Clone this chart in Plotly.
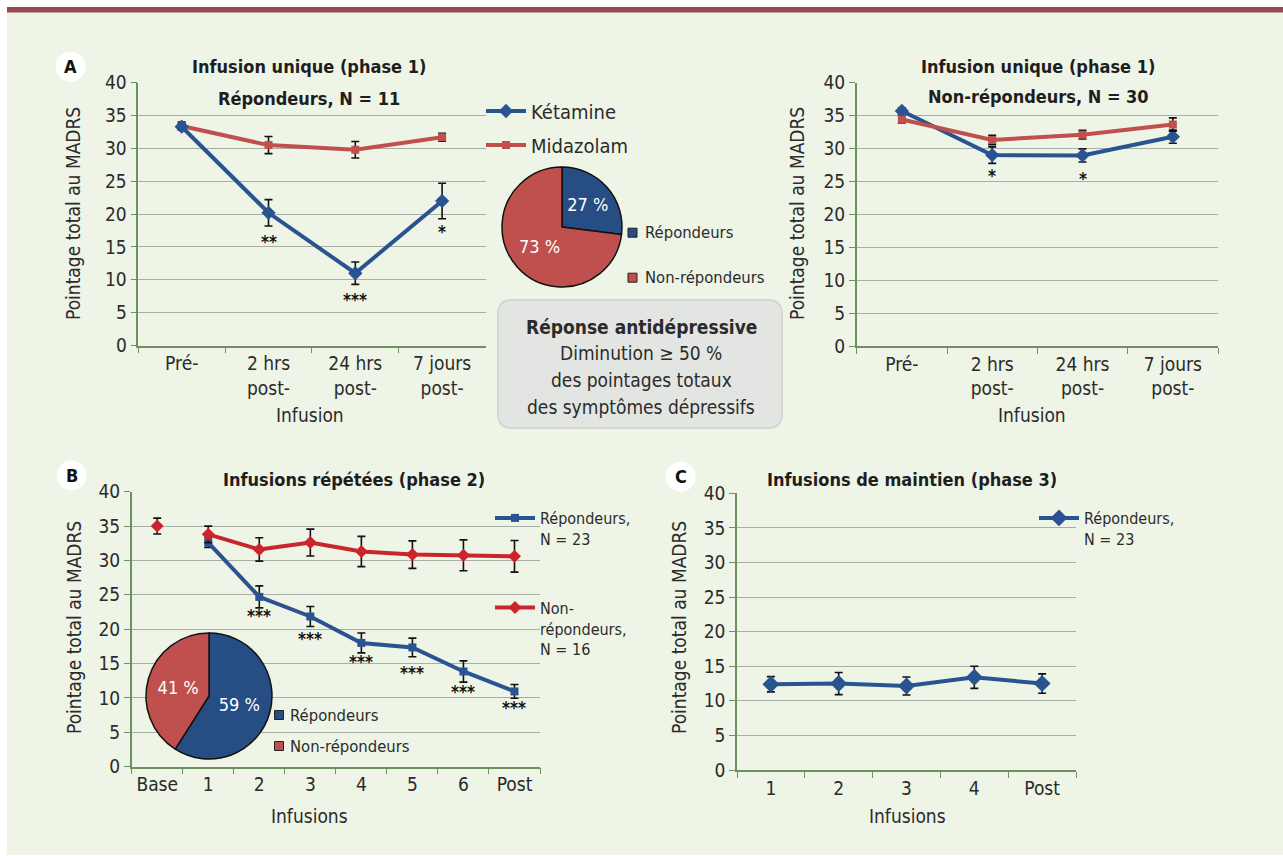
import plotly.graph_objects as go

W, H = 1283, 856
def fx(p): return p / W
def fy(p): return 1 - p / H

FONT = "DejaVu Sans Condensed, Liberation Sans Narrow, Roboto Condensed, Roboto, sans-serif"
BLUE = "#2a5391"
RED_A = "#c0504d"
RED_B = "#c9252c"
PIE_BLUE = "#264d84"
PIE_RED = "#c0504d"
GRID = "#a9aea6"
AXIS = "#6f8f61"
BG = "#eef4e6"
TXT = "#2b2b2b"

# ---------------- data ----------------
phase1_cats = ["Pré-", "2 hrs<br>post-", "24 hrs<br>post-", "7 jours<br>post-"]
resp_ket = [33.3, 20.2, 11.0, 22.0]
resp_ket_err = [0.5, 2.0, 1.7, 2.7]
resp_mid = [33.4, 30.5, 29.8, 31.7]
resp_mid_err = [0.6, 1.3, 1.25, 0.6]
nonresp_ket = [35.7, 29.0, 28.95, 31.8]
nonresp_ket_err = [0.5, 1.25, 1.0, 1.0]
nonresp_mid = [34.4, 31.3, 32.1, 33.65]
nonresp_mid_err = [0.5, 0.7, 0.65, 1.0]
resp_stars = ["", "**", "***", "*"]
resp_star_y = [None, 15.7, 7.0, 17.3]
nonresp_stars = ["", "*", "*", ""]
nonresp_star_y = [None, 25.9, 25.4, None]

phase2_cats = ["Base", "1", "2", "3", "4", "5", "6", "Post"]
p2_resp = [None, 32.6, 24.7, 21.85, 18.0, 17.35, 13.85, 10.95]
p2_resp_err = [0, 0.7, 1.6, 1.45, 1.45, 1.35, 1.55, 1.0]
p2_non = [35.0, 33.8, 31.6, 32.6, 31.3, 30.85, 30.75, 30.6]
p2_non_err = [1.15, 1.2, 1.7, 1.95, 2.2, 2.0, 2.25, 2.3]
p2_stars = ["", "", "***", "***", "***", "***", "***", "***"]
p2_star_y = [None, None, 21.9, 18.6, 15.3, 13.6, 10.9, 8.5]

phase3_cats = ["1", "2", "3", "4", "Post"]
p3_resp = [12.4, 12.5, 12.15, 13.4, 12.5]
p3_resp_err = [1.1, 1.6, 1.3, 1.6, 1.4]

pie_labels = ["Répondeurs", "Non-répondeurs"]
pieA_values = [27, 73]
pieB_values = [59, 41]

# ---------------- figure ----------------
fig = go.Figure()

def err(arr):
    return dict(type="data", array=arr, visible=True, color="#111111", thickness=1.6, width=4)

# Panel A left
fig.add_trace(go.Scatter(x=phase1_cats, y=resp_mid, error_y=err(resp_mid_err), mode="lines+markers",
                         line=dict(color=RED_A, width=4), marker=dict(symbol="square", size=8, color=RED_A),
                         name="Midazolam", legend="legend", legendgroup="mid", legendrank=2,
                         xaxis="x", yaxis="y"))
fig.add_trace(go.Scatter(x=phase1_cats, y=resp_ket, error_y=err(resp_ket_err), mode="lines+markers",
                         line=dict(color=BLUE, width=4), marker=dict(symbol="diamond", size=11, color=BLUE),
                         name="Kétamine", legend="legend", legendgroup="ket", legendrank=1,
                         xaxis="x", yaxis="y"))
# Panel A right
fig.add_trace(go.Scatter(x=phase1_cats, y=nonresp_ket, error_y=err(nonresp_ket_err), mode="lines+markers",
                         line=dict(color=BLUE, width=4), marker=dict(symbol="diamond", size=11, color=BLUE),
                         showlegend=False, xaxis="x2", yaxis="y2"))
fig.add_trace(go.Scatter(x=phase1_cats, y=nonresp_mid, error_y=err(nonresp_mid_err), mode="lines+markers",
                         line=dict(color=RED_A, width=4), marker=dict(symbol="square", size=8, color=RED_A),
                         showlegend=False, xaxis="x2", yaxis="y2"))
# Panel B
fig.add_trace(go.Scatter(x=phase2_cats[:1], y=p2_non[:1], error_y=err(p2_non_err[:1]), mode="markers",
                         marker=dict(symbol="diamond", size=10, color=RED_B),
                         showlegend=False, xaxis="x3", yaxis="y3"))
fig.add_trace(go.Scatter(x=phase2_cats[1:], y=p2_resp[1:], error_y=err(p2_resp_err[1:]), mode="lines+markers",
                         line=dict(color=BLUE, width=4), marker=dict(symbol="square", size=8, color=BLUE),
                         name="Répondeurs,<br>N = 23", legend="legend3", legendgroup="b1", legendrank=1,
                         xaxis="x3", yaxis="y3"))
fig.add_trace(go.Scatter(x=phase2_cats[1:], y=p2_non[1:], error_y=err(p2_non_err[1:]), mode="lines+markers",
                         line=dict(color=RED_B, width=4), marker=dict(symbol="diamond", size=10, color=RED_B),
                         name="Non-<br>répondeurs,<br>N = 16", legend="legend3", legendgroup="b2", legendrank=2,
                         xaxis="x3", yaxis="y3"))
# Panel C
fig.add_trace(go.Scatter(x=phase3_cats, y=p3_resp, error_y=err(p3_resp_err), mode="lines+markers",
                         line=dict(color=BLUE, width=4), marker=dict(symbol="diamond", size=13, color=BLUE),
                         name="Répondeurs,<br>N = 23", legend="legend4", xaxis="x4", yaxis="y4"))

# Pies
def pie(values, cx, cy, r):
    return go.Pie(values=values, labels=pie_labels, sort=False, direction="clockwise", rotation=0,
                  marker=dict(colors=[PIE_BLUE, PIE_RED], line=dict(color="#111111", width=1.5)),
                  texttemplate="%{value} %", textposition="inside", insidetextorientation="horizontal",
                  textfont=dict(family=FONT, size=18, color="white"), hoverinfo="skip",
                  showlegend=False,
                  domain=dict(x=[fx(cx - r), fx(cx + r)], y=[fy(cy + r), fy(cy - r)]))
fig.add_trace(pie(pieA_values, 562, 227, 60))
fig.add_trace(pie(pieB_values, 209, 696, 63))

# ---------------- axes ----------------
def xax(x0, x1, ncat):
    return dict(domain=[fx(x0), fx(x1)], type="category", range=[-0.5, ncat - 0.5], tickson="boundaries",
                ticks="outside", ticklen=6, tickcolor=AXIS, tickwidth=1.3, showline=True, linecolor=AXIS,
                linewidth=1.5, showgrid=False, zeroline=False, fixedrange=True, automargin=False,
                tickfont=dict(family=FONT, size=19, color=TXT))
def yax(y0, y1, anchor):
    return dict(domain=[fy(y1), fy(y0)], range=[0, 40], dtick=5, ticks="outside", ticklen=6, tickcolor=AXIS,
                tickwidth=1.3, showline=True, linecolor=AXIS, linewidth=1.5, showgrid=True, gridcolor=GRID,
                gridwidth=1.3, zeroline=False, anchor=anchor, fixedrange=True, automargin=False,
                tickfont=dict(family=FONT, size=19, color=TXT))

layout = dict(
    width=W, height=H, margin=dict(l=0, r=0, t=0, b=0, pad=0, autoexpand=False),
    paper_bgcolor="white", plot_bgcolor="rgba(0,0,0,0)",
    font=dict(family=FONT, color=TXT),
    xaxis=dict(xax(138.3, 485.5, 4), anchor="y"), yaxis=yax(82.7, 345.5, "x"),
    xaxis2=dict(xax(856.7, 1218, 4), anchor="y2"), yaxis2=yax(82.7, 346, "x2"),
    xaxis3=dict(xax(131.7, 540, 8), anchor="y3"), yaxis3=yax(491.7, 766.7, "x3"),
    xaxis4=dict(xax(737, 1076, 5), anchor="y4"), yaxis4=yax(493.3, 770, "x4"),
    legend=dict(x=fx(481), y=fy(91.5), xanchor="left", yanchor="top", bgcolor="rgba(0,0,0,0)",
                font=dict(family=FONT, size=20, color=TXT), traceorder="grouped", tracegroupgap=5,
                itemwidth=40),
    legend3=dict(x=fx(490), y=fy(501), xanchor="left", yanchor="top", bgcolor="rgba(0,0,0,0)",
                 font=dict(family=FONT, size=16, color=TXT), traceorder="grouped", tracegroupgap=45,
                 valign="top", itemwidth=40),
    legend4=dict(x=fx(1034), y=fy(501), xanchor="left", yanchor="top", bgcolor="rgba(0,0,0,0)",
                 font=dict(family=FONT, size=16, color=TXT), valign="top", itemwidth=40),
)
fig.update_layout(**layout)

shapes = []
ann = []
# background panel and top bar
shapes.append(dict(type="rect", xref="paper", yref="paper", x0=fx(7), x1=fx(1283), y0=fy(855), y1=fy(7),
                   fillcolor=BG, line=dict(width=0), layer="below"))
shapes.append(dict(type="rect", xref="paper", yref="paper", x0=fx(7), x1=fx(1283), y0=fy(12.5), y1=fy(7),
                   fillcolor="#9a4755", line=dict(width=0), layer="below"))
# circles for panel labels
for lab, cx, cy in [("A", 70.7, 66.7), ("B", 71.7, 475.5), ("C", 680.7, 476.7)]:
    shapes.append(dict(type="circle", xref="paper", yref="paper", x0=fx(cx - 15), x1=fx(cx + 15),
                       y0=fy(cy + 15), y1=fy(cy - 15), fillcolor="white", line=dict(width=0), layer="below"))
    ann.append(dict(text="<b>%s</b>" % lab, x=fx(cx), y=fy(cy), xref="paper", yref="paper", showarrow=False,
                    xanchor="center", yanchor="middle", font=dict(family=FONT, size=18, color="#111111")))

# rounded box
bx0, bx1, by0, by1, rr = 498, 782, 300, 428, 14
path = ("M {a},{b} L {c},{b} Q {d},{b} {d},{e} L {d},{f} Q {d},{g} {c},{g} L {a},{g} Q {h},{g} {h},{f} "
        "L {h},{e} Q {h},{b} {a},{b} Z").format(
    a=fx(bx0 + rr), b=fy(by0), c=fx(bx1 - rr), d=fx(bx1), e=fy(by0 + rr), f=fy(by1 - rr), g=fy(by1), h=fx(bx0))
shapes.append(dict(type="path", xref="paper", yref="paper", path=path, fillcolor="#e3e5e2",
                   line=dict(color="#d5d8d2", width=2), layer="below"))
box_lines = [("<b>Réponse antidépressive</b>", 327), ("Diminution ≥ 50 %", 353),
             ("des pointages totaux", 380), ("des symptômes dépressifs", 407)]
for t, yy in box_lines:
    ann.append(dict(text=t, x=fx(641), y=fy(yy), xref="paper", yref="paper", showarrow=False,
                    xanchor="center", yanchor="middle", font=dict(family=FONT, size=19, color=TXT)))

# pie legends (manual)
for (sqx, y1, y2, tx) in [(632.5, 232.7, 277.7, 643), (279, 715, 746, 287.5)]:
    for yy, col, lab in [(y1, PIE_BLUE, pie_labels[0]), (y2, PIE_RED, pie_labels[1])]:
        shapes.append(dict(type="rect", xref="paper", yref="paper", x0=fx(sqx - 4.5), x1=fx(sqx + 4.5),
                           y0=fy(yy + 4.5), y1=fy(yy - 4.5), fillcolor=col, line=dict(color="#222", width=1)))
        ann.append(dict(text=lab, x=fx(tx), y=fy(yy), xref="paper", yref="paper", xanchor="left",
                        yanchor="middle", showarrow=False, font=dict(family=FONT, size=16.5, color=TXT)))

# titles
titles = [("<b>Infusion unique (phase 1)</b>", 309, 66.5), ("<b>Répondeurs, N = 11</b>", 309, 98),
          ("<b>Infusion unique (phase 1)</b>", 1038, 66), ("<b>Non-répondeurs, N = 30</b>", 1038, 97),
          ("<b>Infusions répétées (phase 2)</b>", 354, 480), ("<b>Infusions de maintien (phase 3)</b>", 912, 479)]
for t, xx, yy in titles:
    ann.append(dict(text=t, x=fx(xx), y=fy(yy), xref="paper", yref="paper", showarrow=False,
                    xanchor="center", yanchor="middle", font=dict(family=FONT, size=18, color="#1e1e1e")))
# axis titles
for t, xx, yy in [("Infusion", 310, 415), ("Infusion", 1032, 415), ("Infusions", 309, 816), ("Infusions", 907, 816)]:
    ann.append(dict(text=t, x=fx(xx), y=fy(yy), xref="paper", yref="paper", showarrow=False,
                    xanchor="center", yanchor="middle", font=dict(family=FONT, size=19, color=TXT)))
for xx, yy in [(73, 214), (797, 214), (74, 628), (679, 628)]:
    ann.append(dict(text="Pointage total au MADRS", x=fx(xx), y=fy(yy), xref="paper", yref="paper",
                    xanchor="center", yanchor="middle",
                    showarrow=False, textangle=-90, font=dict(family=FONT, size=19, color=TXT)))

# significance stars
for cats, stars, ys, xr, yr in [(phase1_cats, resp_stars, resp_star_y, "x", "y"),
                                (phase1_cats, nonresp_stars, nonresp_star_y, "x2", "y2"),
                                (phase2_cats, p2_stars, p2_star_y, "x3", "y3")]:
    for c, s, yv in zip(cats, stars, ys):
        if s:
            ann.append(dict(text="<b>%s</b>" % s, x=c, y=yv, xref=xr, yref=yr, showarrow=False,
                            xanchor="center", yanchor="middle",
                            font=dict(family=FONT, size=17, color="#111111")))

fig.update_layout(shapes=shapes, annotations=ann)
fig.write_html("out.html", config={"displayModeBar": False},
               post_script="document.body.style.margin='0';document.body.style.overflow='hidden';")
